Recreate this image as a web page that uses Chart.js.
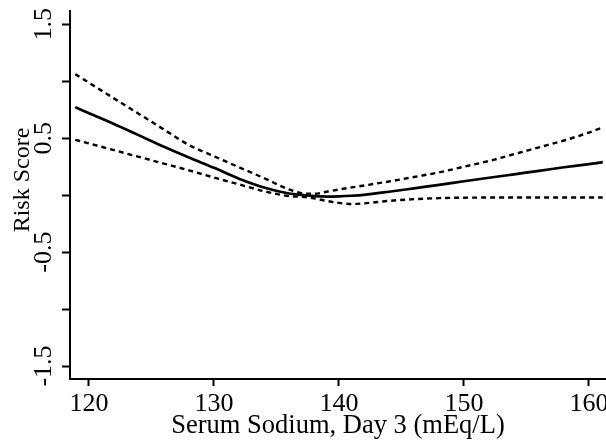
<!DOCTYPE html>
<html>
<head>
<meta charset="utf-8">
<script src="https://cdn.jsdelivr.net/npm/chart.js@4.4.1/dist/chart.umd.min.js"></script>
<style>
  html, body { margin: 0; padding: 0; background: #ffffff; }
  #wrap { width: 606px; height: 447px; }
</style>
</head>
<body>
<div id="wrap"><canvas id="c" width="606" height="447"></canvas></div>
<script>
// ---- data ----
const sodium = [118.9, 120, 122, 124, 126, 128, 130, 132, 134, 136, 137, 138, 139, 140, 141, 142, 144, 146, 148, 150, 152, 154, 156, 158, 160, 161.1];
const riskScore = [0.773, 0.72, 0.625, 0.525, 0.425, 0.33, 0.24, 0.145, 0.068, 0.015, 0.002, -0.008, -0.012, -0.01, -0.005, 0.003, 0.03, 0.06, 0.09, 0.122, 0.153, 0.183, 0.213, 0.245, 0.273, 0.29];
const upperCI = [1.062, 0.987, 0.85, 0.713, 0.576, 0.44, 0.342, 0.245, 0.15, 0.05, 0.018, 0.012, 0.03, 0.05, 0.068, 0.085, 0.12, 0.16, 0.2, 0.25, 0.3, 0.36, 0.42, 0.48, 0.55, 0.595];
const lowerCI = [0.486, 0.454, 0.395, 0.336, 0.277, 0.218, 0.155, 0.095, 0.035, -0.008, -0.015, -0.028, -0.05, -0.068, -0.077, -0.072, -0.05, -0.035, -0.026, -0.022, -0.021, -0.021, -0.021, -0.021, -0.021, -0.021];

const xTickValues = [120, 130, 140, 150, 160];
const xTickLabels = ['120', '130', '140', '150', '160'];
const yTickValues = [-1.5, -1, -0.5, 0, 0.5, 1, 1.5];
const yTickLabels = ['-1.5', '', '-0.5', '', '0.5', '', '1.5'];

const xTitle = 'Serum Sodium, Day 3 (mEq/L)';
const yTitle = 'Risk Score';

// ---- build ----
const pts = (ys) => sodium.map((x, i) => ({ x: x, y: ys[i] }));
const FONT = '"Liberation Serif", "Times New Roman", Times, serif';

new Chart(document.getElementById('c'), {
  type: 'line',
  data: {
    datasets: [
      { data: pts(upperCI), borderColor: '#000', borderWidth: 2.4, borderDash: [5, 4], pointRadius: 0, cubicInterpolationMode: 'monotone', fill: false },
      { data: pts(lowerCI), borderColor: '#000', borderWidth: 2.4, borderDash: [5, 4], pointRadius: 0, cubicInterpolationMode: 'monotone', fill: false },
      { data: pts(riskScore), borderColor: '#000', borderWidth: 2.7, pointRadius: 0, cubicInterpolationMode: 'monotone', fill: false }
    ]
  },
  options: {
    responsive: false,
    animation: false,
    layout: { padding: { top: 11, right: 0, bottom: 0, left: 0 } },
    plugins: { legend: { display: false }, tooltip: { enabled: false } },
    scales: {
      x: {
        type: 'linear',
        min: 118.48,
        max: 161.36,
        afterBuildTicks: (s) => { s.ticks = xTickValues.map(v => ({ value: v })); },
        afterFit: (s) => { s.paddingLeft = 0; s.paddingRight = 0; s.height = 68; },
        ticks: {
          callback: (v, i) => xTickLabels[i],
          color: '#000',
          font: { family: FONT, size: 26 },
          padding: 2.4,
          maxRotation: 0,
          autoSkip: false
        },
        grid: { drawOnChartArea: false, drawTicks: true, tickLength: 7, tickWidth: 2, tickColor: '#000' },
        border: { display: true, color: '#000', width: 2 },
        title: { display: true, text: xTitle, color: '#000', font: { family: FONT, size: 26.5 }, padding: { top: 0, bottom: 4.8 } }
      },
      y: {
        type: 'linear',
        min: -1.614,
        max: 1.617,
        afterBuildTicks: (s) => { s.ticks = yTickValues.map(v => ({ value: v })); },
        afterFit: (s) => { s.paddingTop = 0; s.paddingBottom = 0; s.width = 70; },
        ticks: {
          callback: (v, i) => yTickLabels[i],
          color: '#000',
          font: { family: FONT, size: 26 },
          minRotation: 90,
          maxRotation: 90,
          crossAlign: 'center',
          padding: -3.1,
          autoSkip: false
        },
        grid: { drawOnChartArea: false, drawTicks: true, tickLength: 8, tickWidth: 2, tickColor: '#000' },
        border: { display: true, color: '#000', width: 2 },
        title: { display: true, text: '     ' + yTitle, color: '#000', font: { family: FONT, size: 24 }, padding: { top: 8, bottom: 0 } }
      }
    }
  }
});
</script>
</body>
</html>
